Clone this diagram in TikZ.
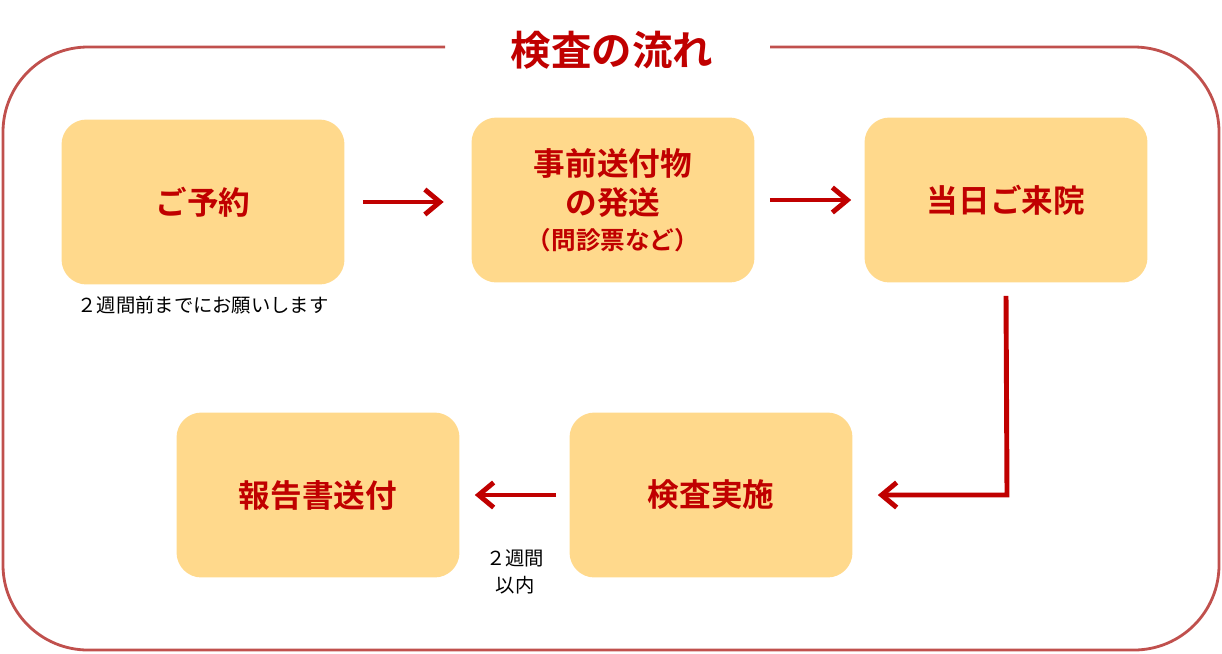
\documentclass[tikz,border=0pt]{standalone}
\usepackage{fontspec}
\newfontfamily\jpfont{Noto Sans CJK JP}
\newfontfamily\jpbold{Noto Sans CJK JP Bold}
\usetikzlibrary{positioning,arrows.meta}
\definecolor{boxfill}{HTML}{FFD98C}
\definecolor{darkred}{HTML}{C00000}
\definecolor{framered}{HTML}{C0504D}
\tikzset{
  stepbox/.style={fill=boxfill, rounded corners=0.5cm, minimum width=5.66cm,
    minimum height=3.3cm, align=center, text=darkred, font=\jpbold\fontsize{18}{24}\selectfont},
  flow/.style={-{Straight Barb[length=3mm,width=5mm]}, darkred, line width=2.8pt},
  note/.style={font=\jpfont\fontsize{11}{15}\selectfont, align=center}
}
\begin{document}
\begin{tikzpicture}[x=0.02cm,y=-0.02cm]
    \useasboundingbox (0,0) rectangle (1222,653);
    \draw [framered, line width=1.6pt, rounded corners=1.7cm] (445,47) -- (3,47) -- (3,650) -- (1219,650) -- (1219,47) -- (770,47);
    \node (title) at (612,50) {\jpbold\fontsize{23}{28}\selectfont\color{darkred}検査の流れ};
    \node [stepbox] (yoyaku) at (203,202) {ご予約};
    \node [stepbox] (soufu) at (613,200) {事前送付物\\[-2pt]の発送\\[-4pt]{\fontsize{14}{18}\selectfont （問診票など）}};
    \node [stepbox] (raiin) at (1006,200) {当日ご来院};
    \node [stepbox] (kensa) at (711,495) {検査実施};
    \node [stepbox] (houkoku) at (318,495) {報告書送付};
    \node [note, below=0.1cm of yoyaku] (nichiji) {２週間前までにお願いします};
    \node [note] (kikan) at (515,572) {２週間\\以内};
    \draw [flow] ([xshift=0.36cm]yoyaku.east) -- ([xshift=-0.55cm]soufu.west |- yoyaku.east);
    \draw [flow] ([xshift=0.3cm]soufu.east) -- ([xshift=-0.26cm]raiin.west);
    \coordinate (corner) at (1007,495);
    \draw [flow] ([yshift=-0.26cm]raiin.south) -- (corner) -- ([xshift=0.5cm]kensa.east);
    \draw [flow] ([xshift=-0.26cm]kensa.west) -- ([xshift=0.3cm]houkoku.east);
\end{tikzpicture}
\end{document}
